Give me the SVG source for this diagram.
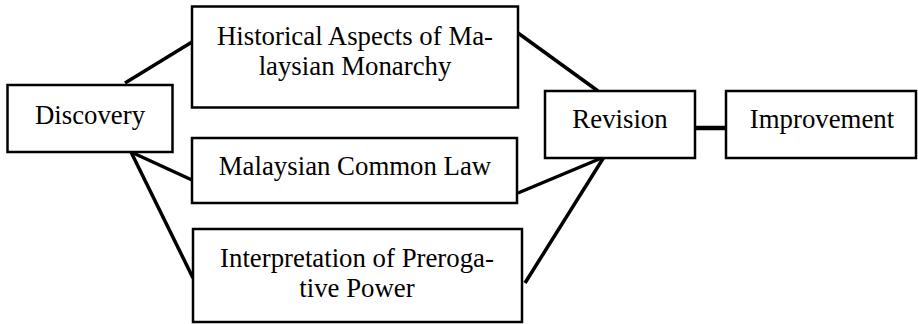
<svg xmlns="http://www.w3.org/2000/svg" width="918" height="324" viewBox="0 0 918 324">
<style>
.box{fill:#fff;stroke:#000;stroke-width:2.5}
.t{font-family:"Liberation Serif","Times New Roman",serif;font-size:26.8px;fill:#000;text-anchor:middle}
.c{stroke:#000;stroke-width:3.5;fill:none}
</style>
<rect width="918" height="324" fill="#fff"/>
<g id="connectors">
<line class="c" x1="125" y1="83" x2="192" y2="42"/>
<line class="c" x1="131" y1="152" x2="192" y2="180"/>
<line class="c" x1="131" y1="152" x2="193" y2="278"/>
<line class="c" x1="518" y1="33" x2="598" y2="91"/>
<line class="c" x1="518" y1="193" x2="604" y2="157"/>
<line class="c" x1="525" y1="283" x2="604" y2="157"/>
<line class="c" x1="695" y1="128" x2="727" y2="128" style="stroke-width:4.5"/>
</g>
<g id="discovery">
<rect class="box" x="7.5" y="85" width="165" height="67"/>
<text class="t" x="90" y="124">Discovery</text>
</g>
<g id="historical">
<rect class="box" x="192" y="6.5" width="326" height="101"/>
<text class="t" x="355" y="45">Historical Aspects of Ma-</text>
<text class="t" x="355" y="75">laysian Monarchy</text>
</g>
<g id="common-law">
<rect class="box" x="192" y="138" width="325" height="65"/>
<text class="t" x="355" y="175">Malaysian Common Law</text>
</g>
<g id="interpretation">
<rect class="box" x="193" y="229" width="329" height="93"/>
<text class="t" x="357" y="267">Interpretation of Preroga-</text>
<text class="t" x="357" y="297">tive Power</text>
</g>
<g id="revision">
<rect class="box" x="545" y="91" width="150" height="67"/>
<text class="t" x="620" y="128">Revision</text>
</g>
<g id="improvement">
<rect class="box" x="726" y="91" width="190" height="67"/>
<text class="t" x="822" y="128">Improvement</text>
</g>
</svg>
